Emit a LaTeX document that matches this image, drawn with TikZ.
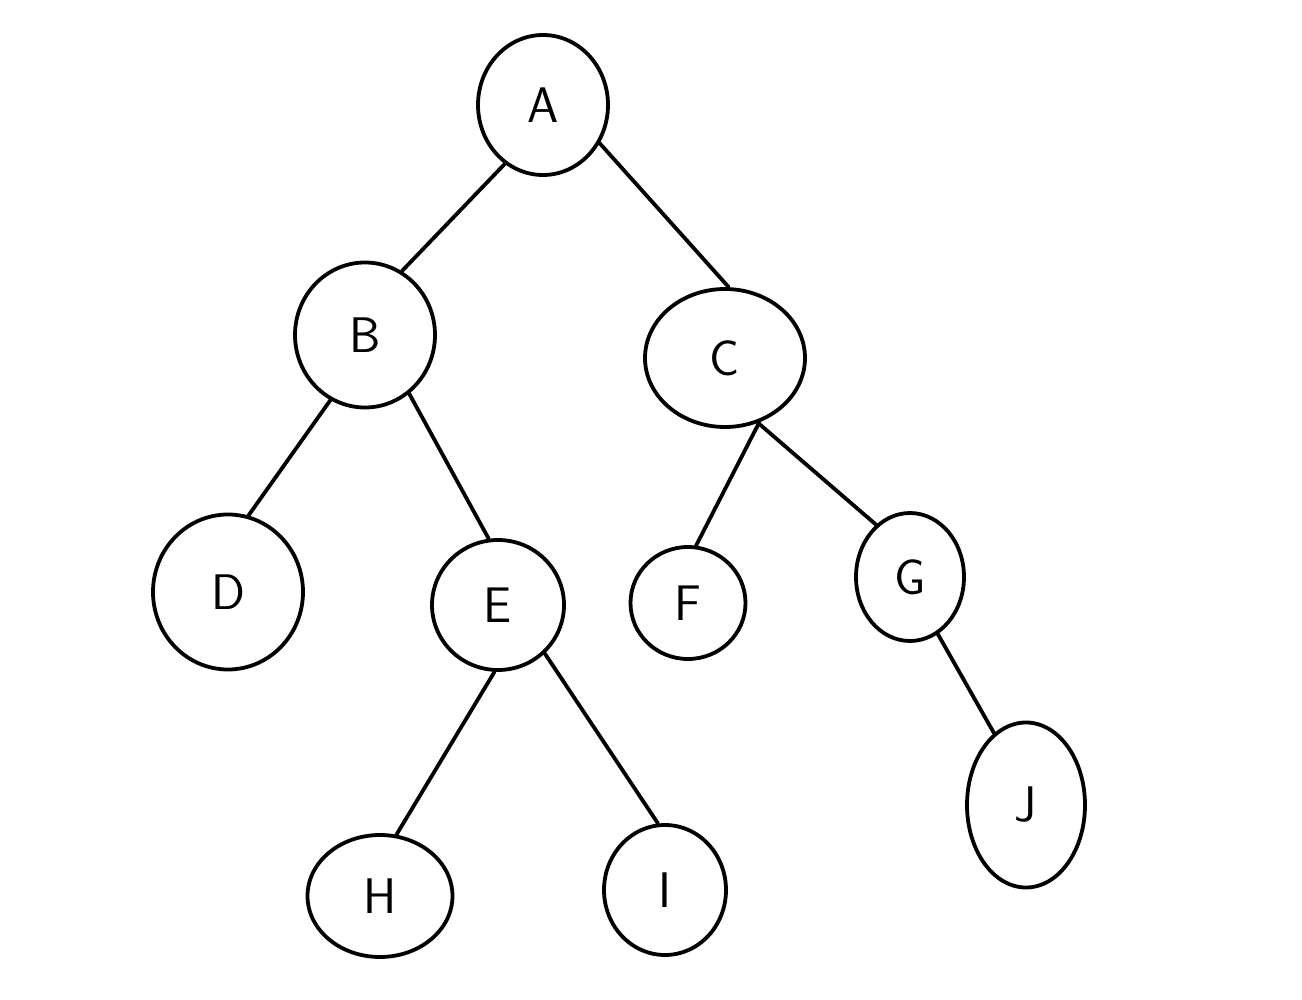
\documentclass[tikz,border=0pt]{standalone}
\usetikzlibrary{shapes.geometric}
\begin{document}
\begin{tikzpicture}[x=1pt,y=-1pt,
  tn/.style={ellipse,draw=black,line width=3.8pt,inner sep=0pt,font=\fontsize{50}{58}\selectfont\sffamily},
  edge/.style={draw=black,line width=3.8pt,line cap=round}]
\useasboundingbox (0,0) rectangle (1302,1000);
\node[tn,minimum width=130,minimum height=140] (A) at (543,105) {A};
\node[tn,minimum width=140,minimum height=145] (B) at (365,335) {B};
\node[tn,minimum width=160,minimum height=138] (C) at (725,358) {C};
\node[tn,minimum width=150,minimum height=155] (D) at (228,592) {D};
\node[tn,minimum width=132,minimum height=130] (E) at (498,605) {E};
\node[tn,minimum width=115,minimum height=112] (F) at (688,603) {F};
\node[tn,minimum width=108,minimum height=128] (G) at (910,577) {G};
\node[tn,minimum width=145,minimum height=122] (H) at (380,896) {H};
\node[tn,minimum width=122,minimum height=130] (I) at (665,890) {I};
\node[tn,minimum width=118,minimum height=165] (J) at (1026,805) {J};
\draw[edge] (A.-123) -- (B.60);
\draw[edge] (A.-34) -- (C.87);
\draw[edge] (B.-118) -- (D.75);
\draw[edge] (B.-53) -- (E.98);
\draw[edge] (C.-62) -- (F.82);
\draw[edge] (C.-63) -- (G.123);
\draw[edge] (E.-93) -- (H.75);
\draw[edge] (E.-46) -- (I.96);
\draw[edge] (G.-64) -- (J.114);
\end{tikzpicture}
\end{document}
